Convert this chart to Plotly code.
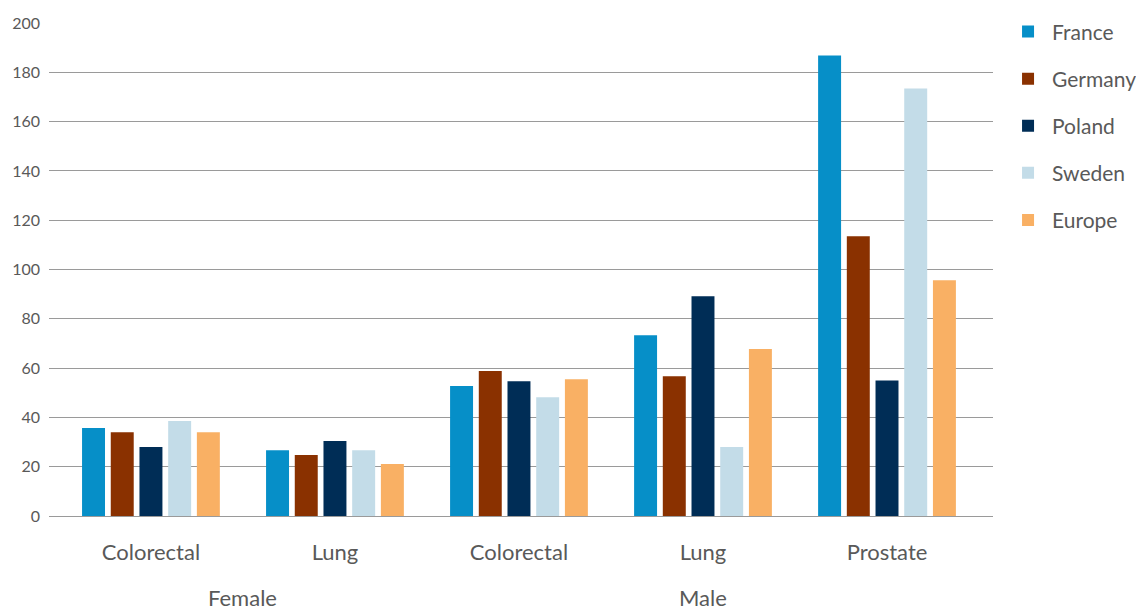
import plotly.graph_objects as go

group_labels = ["Female", "Male"]
group_centers = [0.5, 3.0]
sites = ["Colorectal", "Lung", "Colorectal", "Lung", "Prostate"]
positions = [0, 1, 2, 3, 4]
countries = ["France", "Germany", "Poland", "Sweden", "Europe"]
france = [35.7, 26.7, 52.7, 73.3, 186.8]
germany = [34.0, 24.7, 58.8, 56.7, 113.5]
poland = [28.0, 30.4, 54.7, 89.1, 55.0]
sweden = [38.5, 26.7, 48.2, 28.0, 173.4]
europe = [34.0, 21.1, 55.5, 67.7, 95.6]
colors = ["#068FC8", "#8A3100", "#002D56", "#C3DCE8", "#F9B064"]
yticks = [0, 20, 40, 60, 80, 100, 120, 140, 160, 180, 200]

series = [france, germany, poland, sweden, europe]
FONT = "Lato, 'Open Sans', sans-serif"
fig = go.Figure()
for name, vals, col in zip(countries, series, colors):
    fig.add_trace(go.Bar(x=positions, y=vals, name=name,
                         marker=dict(color=col, line=dict(width=0)),
                         legendgroup=name))

for lab, cx in zip(group_labels, group_centers):
    fig.add_annotation(x=cx, xref="x", y=0, yref="paper", text=lab,
                       showarrow=False, yanchor="middle", yshift=-81,
                       font=dict(size=22, color="#595959", family=FONT))

fig.update_layout(
    width=1144, height=609,
    margin=dict(l=41, r=159, t=15, b=101, autoexpand=False),
    plot_bgcolor="white", paper_bgcolor="white",
    barmode="group", bargap=0.22, bargroupgap=0.2,
    font=dict(family=FONT, color="#595959", size=16),
    legend=dict(x=1.0117, y=1.0235, yanchor="top", xanchor="left",
                font=dict(size=21, color="#595959"), tracegroupgap=16.8,
                itemwidth=38),
    showlegend=True,
)
fig.update_xaxes(range=[-0.554, 4.576], tickvals=positions, ticktext=sites,
                 showgrid=False, tickfont=dict(size=22, color="#595959"),
                 ticks="", showline=False, zeroline=False,
                 ticklabelstandoff=21, automargin=False)
fig.update_yaxes(range=[0, 200], tickvals=yticks, showgrid=True,
                 gridcolor="#9a9a9a", gridwidth=1, zeroline=True,
                 zerolinecolor="#9a9a9a", zerolinewidth=1,
                 tickfont=dict(size=16, color="#595959"), ticklabelstandoff=8,
                 automargin=False)

fig.write_html("out.html")
